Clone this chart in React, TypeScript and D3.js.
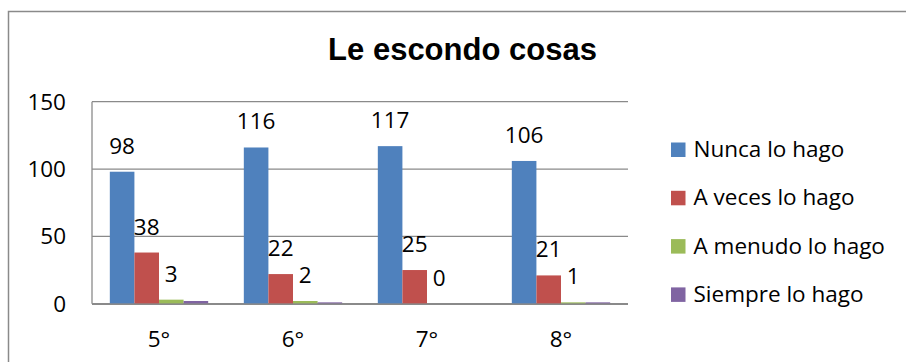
import React from "react";
import * as d3 from "d3";

// Survey answers per grade
const grades = ["5°", "6°", "7°", "8°"];
const seriesNames = ["Nunca lo hago", "A veces lo hago", "A menudo lo hago", "Siempre lo hago"];
const nunca = [98, 116, 117, 106];
const aVeces = [38, 22, 25, 21];
const aMenudo = [3, 2, 0, 1];
const siempre = [2, 1, 0, 1];
const yTicks = [0, 50, 100, 150];
const seriesColors = ["#4F81BD", "#C0504D", "#9BBB59", "#8064A2"];
// Series whose values are printed above the bars
const labelledSeries = [0, 1, 2];

const title = "Le escondo cosas";

const W = 906;
const H = 362;
const plot = { left: 92, right: 628, top: 101.7, bottom: 303.7 };
const FONT = "'Open Sans', sans-serif";
const FS = 22.5;

export default function App() {
  const values = [nunca, aVeces, aMenudo, siempre];

  const x = d3
    .scaleBand<string>()
    .domain(grades)
    .range([plot.left, plot.right])
    .paddingInner(0.266)
    .paddingOuter(0.133);

  const xs = d3
    .scaleBand<number>()
    .domain(d3.range(seriesNames.length))
    .range([0, x.bandwidth()]);

  const y = d3.scaleLinear().domain([0, 150]).range([plot.bottom, plot.top]);

  const legendX = 671;
  const legendY0 = 142.5;
  const legendStep = 48.3;

  return (
    <svg
      width={W}
      height={H}
      style={{ position: "absolute", left: 0, top: 0, background: "#fff" }}
    >
      {/* chart frame */}
      <rect x={8.5} y={11.5} width={1000} height={1000} fill="#fff" stroke="#8a8a8a" strokeWidth={1.5} />

      <text
        x={462.5}
        y={60}
        textAnchor="middle"
        fontFamily="'Liberation Sans', Arial, sans-serif"
        fontWeight="bold"
        fontSize={31}
        fill="#000"
      >
        {title}
      </text>

      {/* gridlines */}
      {yTicks.map((t) => (
        <line
          key={t}
          x1={plot.left}
          x2={plot.right}
          y1={y(t)}
          y2={y(t)}
          stroke="#8a8a8a"
          strokeWidth={1.3}
        />
      ))}
      <line x1={plot.left} x2={plot.left} y1={plot.top} y2={plot.bottom} stroke="#8a8a8a" strokeWidth={1.3} />

      {/* y tick labels */}
      {yTicks.map((t) => (
        <text
          key={t}
          x={66}
          y={y(t)}
          dy="0.36em"
          textAnchor="end"
          fontFamily={FONT}
          fontSize={FS}
          fill="#000"
        >
          {t}
        </text>
      ))}

      {/* bars */}
      {grades.map((g, gi) => (
        <g key={g} transform={`translate(${x(g)},0)`}>
          {values.map((vals, si) => {
            const v = vals[gi];
            if (v <= 0) return null;
            return (
              <rect
                key={si}
                x={xs(si)}
                y={y(v)}
                width={xs.bandwidth()}
                height={y(0) - y(v)}
                fill={seriesColors[si]}
              />
            );
          })}
        </g>
      ))}

      {/* axis baseline */}
      <line x1={plot.left} x2={plot.right} y1={plot.bottom + 0.5} y2={plot.bottom + 0.5} stroke="#8a8a8a" strokeWidth={1.6} />

      {/* value labels */}
      {grades.map((g, gi) => (
        <g key={g} transform={`translate(${x(g)},0)`}>
          {labelledSeries.map((si) => {
            const v = values[si][gi];
            return (
              <text
                key={si}
                x={(xs(si) as number) + xs.bandwidth() / 2}
                y={y(v) - 18}
                textAnchor="middle"
                fontFamily={FONT}
                fontSize={FS}
                fill="#000"
              >
                {v}
              </text>
            );
          })}
        </g>
      ))}

      {/* category labels */}
      {grades.map((g) => (
        <text
          key={g}
          x={(x(g) as number) + x.bandwidth() / 2}
          y={346.5}
          textAnchor="middle"
          fontFamily={FONT}
          fontSize={FS}
          fill="#000"
        >
          {g}
        </text>
      ))}

      {/* legend */}
      {seriesNames.map((name, i) => (
        <g key={name} transform={`translate(${legendX},${legendY0 + i * legendStep})`}>
          <rect x={0} y={0} width={14.5} height={14.5} fill={seriesColors[i]} />
          <text x={22.5} y={14.5} fontFamily={FONT} fontSize={FS} fill="#000">
            {name}
          </text>
        </g>
      ))}
    </svg>
  );
}
